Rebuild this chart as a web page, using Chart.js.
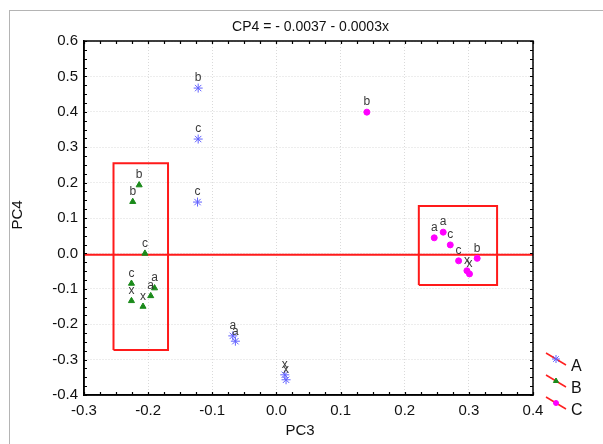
<!DOCTYPE html>
<html lang="en">
<head>
  <meta charset="UTF-8" />
  <title>PC3 x PC4</title>
  <style>
    body { margin: 0; background: #fff; }
    canvas { display: block; }
  </style>
</head>
<body>
  <canvas id="grafico" width="603" height="444"></canvas>

  <script src="https://cdn.jsdelivr.net/npm/chart.js"></script>
  <script>
    // Group A (blue stars)
    const xA = [-0.122, -0.122, -0.123, -0.068, -0.064, 0.013, 0.015];
    const yA = [0.467, 0.323, 0.145, -0.233, -0.248, -0.343, -0.357];
    const lblA = ['b', 'c', 'c', 'a', 'a', 'x', 'x'];

    // Group B (green triangles)
    const xB = [-0.214, -0.224, -0.205, -0.226, -0.226, -0.208, -0.196, -0.190];
    const yB = [0.193, 0.146, 0.000, -0.085, -0.134, -0.150, -0.120, -0.098];
    const lblB = ['b', 'b', 'c', 'c', 'x', 'x', 'a', 'a'];

    // Group C (magenta circles)
    const xC = [0.141, 0.246, 0.260, 0.271, 0.284, 0.313, 0.297, 0.301];
    const yC = [0.399, 0.044, 0.060, 0.024, -0.021, -0.014, -0.049, -0.058];
    const lblC = ['b', 'a', 'a', 'c', 'c', 'b', 'x', 'x'];

    // fitted line CP4 = -0.0037 - 0.0003x, end points
    const fitX = [-0.3, 0.4];
    const fitY = [-0.0036, -0.0038];

    // red boxes [x0, x1] and [y0, y1]
    const boxLeftX = [-0.254, -0.169];
    const boxLeftY = [-0.273, 0.255];
    const boxRightX = [0.222, 0.344];
    const boxRightY = [-0.089, 0.134];

    const groupNames = ['A', 'B', 'C'];

    function pares(xs, ys) {
      return xs.map((v, i) => ({ x: v, y: ys[i] }));
    }
    function caixa(xs, ys) {
      return [
        { x: xs[0], y: ys[0] }, { x: xs[1], y: ys[0] },
        { x: xs[1], y: ys[1] }, { x: xs[0], y: ys[1] },
        { x: xs[0], y: ys[0] }
      ];
    }
    function rotulo(v) {
      if (Math.abs(v) < 1e-9) return '0.0';
      return Number(v).toFixed(1);
    }

    const fonte = 'Arial, "Liberation Sans", sans-serif';

    // Extra drawing: outer frame, inward ticks, point letters, titles, legend
    const extras = {
      id: 'extras',
      beforeDraw(chart) {
        const ctx = chart.ctx;
        ctx.save();
        ctx.fillStyle = '#fff';
        ctx.fillRect(0, 0, chart.width, chart.height);
        ctx.strokeStyle = '#b4b4b4';
        ctx.lineWidth = 1;
        ctx.strokeRect(9.5, 10.5, 640, 480);
        ctx.restore();
      },
      afterDatasetsDraw(chart) {
        const ctx = chart.ctx;
        ctx.save();
        ctx.font = '12px ' + fonte;
        ctx.fillStyle = '#3a3a3a';
        ctx.textAlign = 'center';
        ctx.textBaseline = 'bottom';
        chart.data.datasets.forEach((ds, di) => {
          if (!ds.letras) return;
          const meta = chart.getDatasetMeta(di);
          meta.data.forEach((p, i) => {
            ctx.fillText(ds.letras[i], p.x, p.y - 4);
          });
        });
        ctx.restore();
      },
      afterDraw(chart) {
        const { ctx, chartArea: a, scales: { x, y } } = chart;
        ctx.save();

        // frame
        ctx.strokeStyle = '#000';
        ctx.lineWidth = 1.5;
        ctx.strokeRect(a.left, a.top, a.right - a.left, a.bottom - a.top);

        // inward tick marks every 0.025
        ctx.lineWidth = 1.2;
        ctx.beginPath();
        for (let i = 0; i <= 28; i++) {
          const px = Math.round(x.getPixelForValue(-0.3 + i * 0.025)) + 0.5;
          ctx.moveTo(px, a.bottom); ctx.lineTo(px, a.bottom - 3);
          ctx.moveTo(px, a.top); ctx.lineTo(px, a.top + 3);
        }
        for (let i = 0; i <= 40; i++) {
          const py = Math.round(y.getPixelForValue(-0.4 + i * 0.025)) + 0.5;
          ctx.moveTo(a.left, py); ctx.lineTo(a.left + 3, py);
          ctx.moveTo(a.right, py); ctx.lineTo(a.right - 3, py);
        }
        ctx.stroke();

        // titles
        ctx.fillStyle = '#111';
        ctx.textAlign = 'center';
        ctx.textBaseline = 'middle';
        ctx.font = '14px ' + fonte;
        ctx.fillText('CP4 = - 0.0037 - 0.0003x', (a.left + a.right) / 2 + 2, 27);
        ctx.font = '15px ' + fonte;
        ctx.fillText('PC3', 300, 431);
        ctx.save();
        ctx.translate(18, 215);
        ctx.rotate(-Math.PI / 2);
        ctx.fillText('PC4', 0, 0);
        ctx.restore();

        // legend
        const estilos = chart.data.datasets.slice(0, 3);
        estilos.forEach((ds, i) => {
          const yy = 359 + i * 22;
          ctx.strokeStyle = '#ff2020';
          ctx.lineWidth = 1.5;
          ctx.beginPath();
          ctx.moveTo(546, yy - 6);
          ctx.lineTo(566, yy + 6);
          ctx.stroke();
          ctx.fillStyle = ds.backgroundColor;
          ctx.strokeStyle = ds.borderColor;
          ctx.lineWidth = 1;
          Chart.helpers.drawPoint(ctx, {
            pointStyle: ds.pointStyle,
            radius: ds.pointRadius - 0.5,
            rotation: 0,
            borderWidth: 1
          }, 556, yy);
          ctx.fillStyle = '#111';
          ctx.font = '16px ' + fonte;
          ctx.textAlign = 'left';
          ctx.fillText(groupNames[i], 571, yy + 8);
        });

        ctx.restore();
      }
    };

    const ctx = document.getElementById('grafico').getContext('2d');
    new Chart(ctx, {
      type: 'scatter',
      data: {
        datasets: [
          {
            label: groupNames[0], data: pares(xA, yA), letras: lblA,
            pointStyle: 'star', pointRadius: 4.5, borderWidth: 1,
            borderColor: '#6262ff', backgroundColor: '#6262ff'
          },
          {
            label: groupNames[1], data: pares(xB, yB), letras: lblB,
            pointStyle: 'triangle', pointRadius: 3.5, borderWidth: 1,
            borderColor: '#1a8a1a', backgroundColor: '#1a8a1a'
          },
          {
            label: groupNames[2], data: pares(xC, yC), letras: lblC,
            pointStyle: 'circle', pointRadius: 3, borderWidth: 1,
            borderColor: '#ff00ff', backgroundColor: '#ff00ff'
          },
          {
            label: 'ajuste', data: pares(fitX, fitY), showLine: true,
            pointRadius: 0, borderColor: '#ff1a1a', borderWidth: 2
          },
          {
            label: 'caixa1', data: caixa(boxLeftX, boxLeftY), showLine: true,
            pointRadius: 0, borderColor: '#ff1a1a', borderWidth: 2
          },
          {
            label: 'caixa2', data: caixa(boxRightX, boxRightY), showLine: true,
            pointRadius: 0, borderColor: '#ff1a1a', borderWidth: 2
          }
        ]
      },
      options: {
        responsive: false,
        animation: false,
        layout: { padding: { left: 0, top: 41, right: 70, bottom: 0 } },
        plugins: {
          legend: { display: false },
          title: { display: false },
          tooltip: { enabled: false }
        },
        scales: {
          x: {
            type: 'linear', min: -0.3, max: 0.4,
            afterFit: s => { s.height = 49; },
            ticks: {
              stepSize: 0.1, padding: 7, color: '#111',
              font: { family: fonte, size: 15 },
              callback: v => rotulo(v)
            },
            grid: { color: '#dadada', drawTicks: false, lineWidth: 1 },
            border: { display: true, color: '#000', width: 1.5, dash: [1, 2] }
          },
          y: {
            type: 'linear', min: -0.4, max: 0.6,
            afterFit: s => { s.width = 84; },
            ticks: {
              stepSize: 0.1, padding: 6, color: '#111',
              font: { family: fonte, size: 15 },
              callback: v => rotulo(v)
            },
            grid: { color: '#dadada', drawTicks: false, lineWidth: 1 },
            border: { display: true, color: '#000', width: 1.5, dash: [1, 2] }
          }
        }
      },
      plugins: [extras]
    });
  </script>
</body>
</html>
